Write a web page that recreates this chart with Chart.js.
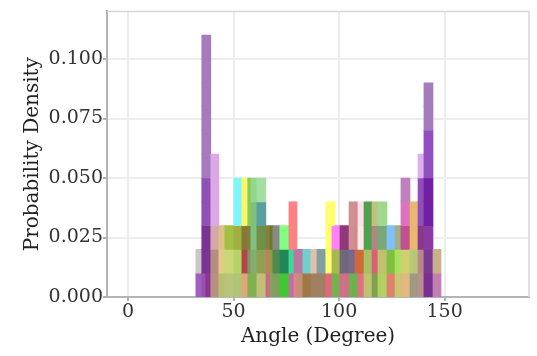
<!DOCTYPE html>
<html><head><meta charset="utf-8">
<script src="https://cdn.jsdelivr.net/npm/chart.js@4.4.0/dist/chart.umd.min.js"></script>
<style>html,body{margin:0;padding:0;background:#fff}canvas{display:block}</style>
</head><body>
<canvas id="c" width="537" height="356"></canvas>
<script>
// Bin edges (degrees) of the visible histogram columns
const binEdges = [32.1, 34.9, 36.8, 39.2, 43.0, 45.8, 50.1, 53.9, 56.7, 58.2, 61.0, 65.3, 67.2, 68.6, 71.9, 76.2, 78.6, 80.0, 82.8, 86.6, 89.5, 93.7, 96.6, 98.0, 100.4, 104.7, 107.5, 108.9, 111.8, 115.6, 118.4, 122.7, 126.5, 129.3, 133.6, 137.4, 140.2, 144.5, 148.3];
// Column heights (probability density)
const binTops = [0.02, 0.11, 0.11, 0.06, 0.03, 0.03, 0.05, 0.05, 0.05, 0.05, 0.05, 0.03, 0.03, 0.03, 0.03, 0.04, 0.04, 0.02, 0.02, 0.02, 0.02, 0.04, 0.04, 0.03, 0.03, 0.04, 0.04, 0.04, 0.04, 0.04, 0.04, 0.03, 0.03, 0.05, 0.04, 0.06, 0.09, 0.02];
// Blended colours of each 0.01 band, bottom to top
const bandColors = [
  ['#a060c0','#c8c8c8'],
  ['#9a50b0','#7c3494','#7c3494','#9050b4','#9050b4','#a47cbc','#a47cbc','#a47cbc','#a47cbc','#a47cbc','#a47cbc'],
  ['#8a3494','#7c3494','#7c3494','#9050b4','#9050b4','#a47cbc','#a47cbc','#a47cbc','#a47cbc','#a47cbc','#a47cbc'],
  ['#b89080','#b48c84','#d4a8a8','#dca8e8','#dca8e8','#dca8e8'],
  ['#b8c070','#e0cc88','#e0c088'],
  ['#b8c47c','#c8d874','#a4c044'],
  ['#b0c478','#b8d468','#a0b040','#80f4f8','#80f4f8'],
  ['#e0a878','#b04848','#887838','#f8f870','#f8f870'],
  ['#80b050','#88906a','#808040','#90c850','#90c850'],
  ['#80b050','#80b070','#80c080','#80c080','#90d890'],
  ['#c0c078','#90a050','#709048','#58a0a0','#a0e0a0'],
  ['#d06880','#c08060','#808040'],
  ['#88a060','#88a040','#707828'],
  ['#80a060','#508850','#888888'],
  ['#40c830','#208858','#80ff80'],
  ['#c070a0','#40d898','#ff8080','#ff8080'],
  ['#e08090','#b878a0','#ff8080','#ff8080'],
  ['#c09070','#b878a0'],
  ['#a07848','#70d0d0'],
  ['#a08060','#e0c0a8'],
  ['#a08060','#80a0a0'],
  ['#e06878','#ffff70','#ffff70','#ffff70'],
  ['#78b050','#a8b850','#ff80ff','#ffff70'],
  ['#78b050','#a8b850','#ff80ff'],
  ['#d07088','#706878','#903878'],
  ['#70b050','#786890','#d09090','#d09090'],
  ['#70b050','#d06838','#d08890','#d08890'],
  ['#e07080','#d06838','#ffe8ec','#ffe0e8'],
  ['#c0c070','#a8c060','#50a050','#50a050'],
  ['#80a050','#d86078','#b08880','#c0c080'],
  ['#b0d060','#c0c070','#78a878','#a0d890'],
  ['#e08070','#80c040','#80c0ff'],
  ['#c8c870','#a8e060','#a0b080'],
  ['#e0b880','#d0d070','#c05090','#e070c0','#c080c0'],
  ['#a09880','#b8c878','#e8b870','#e8b870'],
  ['#b89090','#b88888','#8a3888','#9050b8','#9050b8','#dcb0e8'],
  ['#7a3090','#7a3a90','#8a3aa0','#7020a0','#7020a0','#9050c0','#9050c0','#a47cbc','#a47cbc'],
  ['#c080b0','#c8b088']
];
const bandStep = 0.01;
const xTicks = [0, 50, 100, 150];
const yTicks = [0, 0.025, 0.05, 0.075, 0.1];
const xTitle = 'Angle (Degree)';
const yTitle = 'Probability Density';

// Build rectangles (one floating bar per column band)
const rects = [], rectColors = [];
binTops.forEach((top, i) => {
  const n = Math.round(top / bandStep);
  for (let k = 0; k < n; k++) {
    rects.push({ y: (k + 0.5) * bandStep, x: [binEdges[i], binEdges[i + 1]] });
    rectColors.push(bandColors[i][Math.min(k, bandColors[i].length - 1)]);
  }
});

const FONT = 'DejaVu Serif';
const framePlugin = {
  id: 'frame',
  afterDatasetsDraw(chart) {
    const { ctx, chartArea: a } = chart;
    ctx.save();
    ctx.strokeStyle = '#d6d6d6';
    ctx.lineWidth = 1.5;
    ctx.beginPath();
    ctx.moveTo(a.left, a.top); ctx.lineTo(a.right, a.top); ctx.lineTo(a.right, a.bottom);
    ctx.stroke();
    ctx.restore();
  }
};

new Chart(document.getElementById('c'), {
  type: 'bar',
  data: { datasets: [{ data: rects, backgroundColor: rectColors, borderWidth: 0, barPercentage: 1, categoryPercentage: 1, grouped: false }] },
  options: {
    indexAxis: 'y',
    responsive: false, animation: false, devicePixelRatio: 1,
    layout: { padding: { left: 0, top: 5, right: 8, bottom: 0 } },
    plugins: { legend: { display: false }, tooltip: { enabled: false } },
    scales: {
      x: {
        type: 'linear', position: 'bottom', min: -10, max: 190,
        afterBuildTicks: s => { s.ticks = xTicks.map(v => ({ value: v })); },
        afterFit: s => { s.height = 59; },
        ticks: { color: '#333', font: { family: FONT, size: 19 }, padding: 0, maxRotation: 0, callback: v => String(v) },
        grid: { color: '#ededed', lineWidth: 2, tickColor: '#b0b0b0', tickLength: 4, tickWidth: 2 },
        border: { color: '#b4b4b4', width: 2 },
        title: { display: true, text: xTitle, color: '#222', font: { family: FONT, size: 20 }, padding: { top: 0, bottom: 7 } }
      },
      y: {
        type: 'linear', position: 'left', min: 0, max: 0.12, offset: false,
        afterBuildTicks: s => { s.ticks = yTicks.map(v => ({ value: v })); },
        afterFit: s => { s.width = 107; },
        ticks: { color: '#333', font: { family: FONT, size: 19 }, padding: 0, callback: v => Number(v).toFixed(3) },
        grid: { offset: false, color: '#ededed', lineWidth: 2, tickColor: '#b0b0b0', tickLength: 4, tickWidth: 2 },
        border: { color: '#b4b4b4', width: 2 },
        title: { display: true, text: yTitle, color: '#222', font: { family: FONT, size: 20 }, padding: { top: 21, bottom: 0 } }
      }
    }
  },
  plugins: [framePlugin]
});
</script>
</body></html>
